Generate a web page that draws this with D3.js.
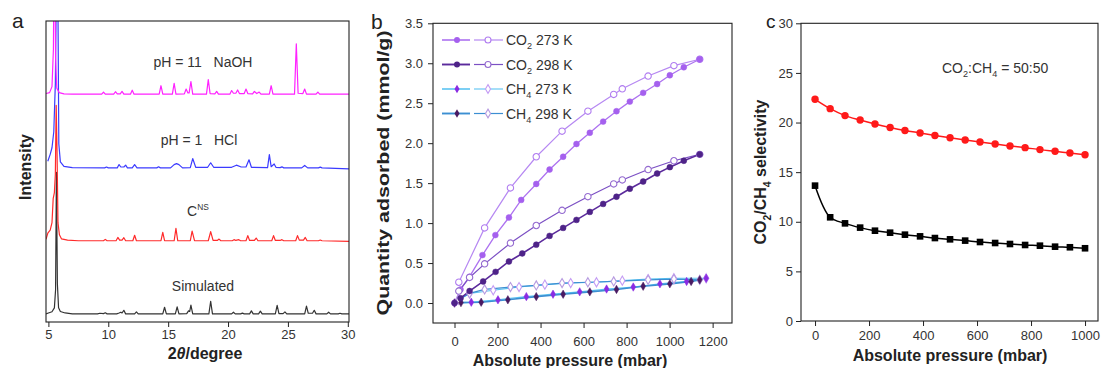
<!DOCTYPE html>
<html><head><meta charset="utf-8">
<script src="https://cdn.jsdelivr.net/npm/d3@7"></script>
<style>
body{margin:0;background:#fff}
svg{display:block}
text{font-family:"Liberation Sans",Arial,Helvetica,sans-serif}
</style>
</head><body>
<svg id="chart" width="1102" height="368"></svg>
<script>
// ---------------- Panel a: XRD patterns [2theta, intensity a.u.] ----------------
const xrdSimulated = [[4.8,0],[5.0,0.3],[5.3,0.7],[5.5,2],[5.6,8],[5.67,47],[5.75,10],[5.85,2],[6.0,0.8],[6.4,0.3],[7.0,0],
[9.1,0],[9.3,0.2],[9.6,0.1],[9.75,0.35],[9.9,0],[10.7,0],[10.9,0.3],[11.05,0.55],[11.15,0.3],[11.3,1.2],[11.45,0],
[12.2,0],[12.35,0.65],[12.5,0],[14.55,0],[14.7,2.2],[14.85,0],[15.6,0],[15.75,2.3],[15.9,0],
[16.55,0.1],[16.7,1.0],[16.8,0.8],[16.9,2.9],[17.05,0],[18.4,0],[18.55,4.2],[18.7,0],
[20.3,0],[20.45,0.55],[20.6,0],[21.05,0],[21.2,0.25],[21.35,0],[21.8,0],[21.95,1.0],[22.1,0],[22.55,0],[22.7,0.9],[22.85,0],
[23.95,0],[24.1,2.8],[24.25,0.1],[24.6,0.1],[24.75,0.65],[24.9,0],[26.4,0],[26.55,2.6],[26.7,0.2],[27.05,0.2],[27.2,1.2],[27.35,0],
[28.25,0],[28.4,0.55],[28.55,0],[29.2,0],[29.35,0.2],[29.5,0],[30.1,0]];
const xrdCNS = [[4.8,0.5],[4.95,2.5],[5.15,3.5],[5.3,6],[5.4,14],[5.5,16],[5.58,22],[5.65,45],[5.72,30],[5.8,6],[5.92,2],[6.1,0.6],[6.6,0.2],[7.5,0],
[9.6,0],[9.75,0.45],[9.9,0],[10.65,0],[10.8,1.1],[10.95,0.2],[11.15,0.2],[11.3,1.0],[11.45,0],
[12.05,0],[12.2,1.8],[12.35,0],[14.4,0],[14.55,2.8],[14.7,0],[15.5,0],[15.65,4.1],[15.8,0],
[16.85,0],[17.0,3.2],[17.2,0],[18.35,0],[18.55,3.0],[18.75,0.1],[19.1,0.1],[19.25,0.55],[19.4,0],
[20.35,0],[20.5,0.35],[20.65,0.1],[20.9,0.35],[21.05,0],[21.5,0],[21.65,1.7],[21.8,0.1],[22.2,0.1],[22.35,0.9],[22.5,0],
[23.65,0],[23.8,1.7],[23.95,0.1],[24.35,0.1],[24.5,0.35],[24.65,0],[25.65,0],[25.8,1.7],[25.95,0.2],[26.3,0.2],[26.45,1.1],[26.6,0],
[27.55,0],[27.7,0.25],[27.85,0],[30.1,-0.2]];
const xrdHCl = [[4.95,2.2],[5.15,4.5],[5.3,6.7],[5.45,12],[5.58,28],[5.68,65],[5.78,65],[5.87,8],[6.0,2],[6.3,0.5],[7.0,0.1],
[9.7,0],[9.85,0.3],[10.0,0],[10.75,0],[10.9,1.1],[11.05,0.3],[11.3,0.3],[11.45,0.9],[11.6,0],
[12.0,0],[12.2,1.1],[12.4,0],[14.05,0],[14.2,0.35],[14.35,0],[15.2,0],[15.5,1.1],[15.7,1.4],[15.9,1.1],[16.2,0],
[16.85,0.1],[17.05,3.1],[17.3,0.2],[18.3,0.2],[18.55,1.7],[18.8,0.2],
[20.3,0.2],[20.7,0.9],[21.1,0.3],[21.5,0.3],[21.75,2.7],[21.95,0.2],
[23.3,0.1],[23.45,4.4],[23.6,0.4],[23.85,1.3],[24.0,0.2],[24.35,0.1],[24.5,0.35],[24.65,0],
[26.15,0],[26.4,0.8],[26.65,0],[27.55,0],[27.7,0.25],[27.85,0],[30.1,-0.3]];
const xrdNaOH = [[4.8,0.2],[5.1,0.5],[5.3,2.5],[5.42,15],[5.5,65],[5.6,12],[5.7,2],[5.9,0.5],[6.3,0.1],[7,0],
[9.45,0],[9.6,0.7],[9.75,0],[10.45,0],[10.6,0.8],[10.75,0.1],[11.0,0.1],[11.15,0.9],[11.3,0],
[11.85,0],[12.0,1.3],[12.15,0],[14.25,0],[14.4,2.8],[14.55,0],[15.35,0],[15.5,3.6],[15.65,0],
[16.35,0.1],[16.5,1.7],[16.65,0.4],[16.75,0.4],[16.9,4.2],[17.05,0],
[18.2,0],[18.35,4.8],[18.5,0.2],[18.9,0.1],[19.05,0.9],[19.2,0],
[20.15,0],[20.3,1.2],[20.45,0.3],[20.65,0.3],[20.8,1.4],[20.95,0.2],[21.35,0.2],[21.5,1.7],[21.65,0.2],[22.05,0.1],[22.2,0.9],[22.4,0.2],[22.6,0.7],[22.75,0],
[23.45,0],[23.6,2.8],[23.75,0],[25.55,0],[25.7,16.7],[25.85,0.3],[26.25,0.2],[26.4,1.7],[26.55,0],
[27.35,0],[27.5,0.7],[27.65,0],[30.1,0]];
const xrdNames   = ["Simulated","CNS","HCl","NaOH"];
const xrdOffsets = [2.7, 27, 51.2, 75.7];
const xrdColors  = ["#333333","#ff2a2a","#3b3bff","#ff22ff"];
const xrdTicks   = [5,10,15,20,25,30];

// ---------------- Panel b: isotherms (pressure mbar, quantity mmol/g) ----------------
const co2_273_ads_p = [0,28,70,130,190,253,310,380,442,505,567,629,691,753,815,877,942,1001,1066,1140];
const co2_273_ads_q = [0,0.17,0.33,0.60,0.85,1.07,1.29,1.49,1.67,1.83,1.99,2.13,2.27,2.40,2.52,2.63,2.74,2.85,2.95,3.05];
const co2_273_des_p = [1140,1020,900,780,740,620,500,380,260,140,20];
const co2_273_des_q = [3.05,2.97,2.84,2.68,2.61,2.40,2.15,1.83,1.44,0.94,0.26];
const co2_298_ads_p = [0,28,70,133,191,253,315,380,442,505,567,629,691,753,815,877,942,1001,1066,1140];
const co2_298_ads_q = [0,0.06,0.15,0.27,0.39,0.52,0.62,0.73,0.84,0.94,1.04,1.14,1.24,1.33,1.43,1.52,1.62,1.70,1.78,1.86];
const co2_298_des_p = [1140,1020,900,780,740,620,500,380,260,140,70,20];
const co2_298_des_q = [1.86,1.78,1.67,1.54,1.49,1.33,1.16,0.97,0.75,0.49,0.32,0.15];
const ch4_273_ads_p = [0,78,202,334,458,582,707,831,955,1079,1170];
const ch4_273_ads_q = [0,0.01,0.04,0.08,0.11,0.14,0.175,0.20,0.24,0.27,0.31];
const ch4_273_des_p = [1170,1020,900,780,660,540,420,300,180,70,20];
const ch4_273_des_q = [0.31,0.31,0.30,0.28,0.26,0.25,0.23,0.20,0.16,0.12,0.05];
const ch4_298_ads_p = [0,30,124,248,380,505,629,753,877,1001,1100,1140];
const ch4_298_ads_q = [0,0.005,0.01,0.04,0.08,0.11,0.14,0.17,0.21,0.24,0.27,0.29];
const ch4_298_des_p = [1140,1020,900,740,620,500,380,260,140,70,20];
const ch4_298_des_q = [0.29,0.30,0.29,0.27,0.26,0.25,0.22,0.20,0.17,0.12,0.04];
const isoTicksX = [0,200,400,600,800,1000,1200];
const isoTicksY = [0,0.5,1.0,1.5,2.0,2.5,3.0,3.5];

// ---------------- Panel c: selectivity ----------------
const selP   = [0,56,111,167,222,278,333,389,444,500,556,611,667,722,778,833,889,944,1000];
const selRed = [22.34,21.4,20.7,20.25,19.85,19.5,19.2,18.95,18.7,18.47,18.24,18.04,17.84,17.64,17.47,17.27,17.1,16.93,16.76];
const selBlk = [13.64,10.45,9.84,9.41,9.1,8.9,8.7,8.53,8.36,8.23,8.1,7.96,7.86,7.76,7.66,7.59,7.49,7.43,7.33];
const selTicksX = [0,200,400,600,800,1000];
const selTicksY = [0,5,10,15,20,25,30];

// ================= drawing =================
const svg = d3.select("#chart");
const FONT = '"Liberation Sans",Arial,sans-serif';

function richText(g, x, y, parts, size, opts={}) {
  const t = g.append("text").attr("x", x).attr("y", y)
    .attr("font-size", size).attr("fill", opts.fill||"#222")
    .attr("font-weight", opts.bold?"bold":"normal")
    .attr("text-anchor", opts.anchor||"start")
    .style("white-space","pre");
  if (opts.rotate) t.attr("transform", `rotate(-90,${x},${y})`);
  if (opts.len) t.attr("textLength", opts.len).attr("lengthAdjust","spacingAndGlyphs");
  let shift = 0;
  parts.forEach(p => {
    const s = t.append("tspan").text(p.t);
    let target = 0;
    if (p.sub) { s.attr("font-size", size*0.65); target = size*0.3; }
    if (p.sup) { s.attr("font-size", size*0.6); target = -size*0.45; }
    if (p.it) s.attr("font-style","italic");
    if (target !== shift) { s.attr("dy", target - shift); shift = target; }
  });
  return t;
}

function frame(x, y) {
  const [x0,x1] = x.range(), [y0,y1] = y.range();
  svg.append("rect").attr("x",x0).attr("y",y1).attr("width",x1-x0).attr("height",y0-y1)
    .attr("fill","none").attr("stroke","#222").attr("stroke-width",1.1);
}
function xAxis(x, y, major, minor, pad, fmt) {
  const y0 = y.range()[0];
  const g = svg.append("g").attr("transform",`translate(0,${y0})`);
  g.call(d3.axisBottom(x).tickValues(minor).tickSize(3).tickFormat(""));
  g.call(d3.axisBottom(x).tickValues(major).tickSize(5).tickPadding(pad).tickFormat(fmt||d3.format("d")));
  g.selectAll(".domain").remove();
  g.selectAll("line").attr("stroke","#222");
  g.selectAll("text").attr("font-size",13).attr("fill","#333").attr("font-family",FONT);
}
function yAxis(x, y, major, minor, pad, fmt) {
  const x0 = x.range()[0];
  const g = svg.append("g").attr("transform",`translate(${x0},0)`);
  g.call(d3.axisLeft(y).tickValues(minor).tickSize(3).tickFormat(""));
  g.call(d3.axisLeft(y).tickValues(major).tickSize(5).tickPadding(pad).tickFormat(fmt));
  g.selectAll(".domain").remove();
  g.selectAll("line").attr("stroke","#222");
  g.selectAll("text").attr("font-size",13).attr("fill","#333").attr("font-family",FONT);
}

// ----- Panel a -----
const xA = d3.scaleLinear().domain([4.8,30.1]).range([46,349]);
const yA = d3.scaleLinear().domain([0,100]).range([322,21]);
svg.append("clipPath").attr("id","clipA").append("rect")
  .attr("x",46).attr("y",21).attr("width",303).attr("height",301);
const gA = svg.append("g").attr("clip-path","url(#clipA)");
[xrdSimulated, xrdCNS, xrdHCl, xrdNaOH].forEach((d,i) => {
  const line = d3.line().x(p => xA(p[0])).y(p => yA(p[1] + xrdOffsets[i]));
  gA.append("path").attr("d", line(d)).attr("fill","none")
    .attr("stroke", xrdColors[i]).attr("stroke-width",1.2).attr("stroke-linejoin","round");
});
frame(xA, yA);
xAxis(xA, yA, xrdTicks, d3.range(7.5,30,5), 3);
richText(svg, 203, 67, [{t:"pH = 11   NaOH"}], 14, {anchor:"middle", fill:"#333"});
richText(svg, 199, 145, [{t:"pH = 1   HCl"}], 14, {anchor:"middle", fill:"#333"});
richText(svg, 187, 216, [{t:"C"},{t:"NS",sup:true}], 14, {fill:"#333"});
richText(svg, 203, 291, [{t:"Simulated"}], 14, {anchor:"middle", fill:"#333"});
richText(svg, 205, 359, [{t:"2"},{t:"θ",it:true},{t:"/degree"}], 16, {anchor:"middle", bold:true});
richText(svg, 31, 167, [{t:"Intensity"}], 16, {anchor:"middle", bold:true, rotate:true});
richText(svg, 12, 28, [{t:"a"}], 21, {});

// ----- Panel b -----
const xB = d3.scaleLinear().domain([-100,1290]).range([433,732]);
const yB = d3.scaleLinear().domain([-0.25,3.5]).range([323,23.3]);
const zip = (p,q) => p.map((v,i) => [v,q[i]]);
const series = [
  {ads:zip(ch4_273_ads_p,ch4_273_ads_q), des:zip(ch4_273_des_p,ch4_273_des_q), lineA:"#5cc4f2", lineD:"#5cc4f2", fill:"#8a2be2", open:"#c49cf4", sym:d3.symbolDiamond, wA:1.3, wD:1.1},
  {ads:zip(ch4_298_ads_p,ch4_298_ads_q), des:zip(ch4_298_des_p,ch4_298_des_q), lineA:"#3c8fd2", lineD:"#3c8fd2", fill:"#4a1a62", open:"#b69ae0", sym:d3.symbolDiamond, wA:1.6, wD:1.2},
  {ads:zip(co2_273_ads_p,co2_273_ads_q), des:zip(co2_273_des_p,co2_273_des_q), lineA:"#ad72f0", lineD:"#b688f2", fill:"#a560ee", open:"#b07cf0", sym:d3.symbolCircle, wA:1.3, wD:1.2},
  {ads:zip(co2_298_ads_p,co2_298_ads_q), des:zip(co2_298_des_p,co2_298_des_q), lineA:"#5b2a9c", lineD:"#7c50c4", fill:"#4e2388", open:"#946ad0", sym:d3.symbolCircle, wA:1.6, wD:1.2}
];
const lineB = d3.line().x(d => xB(d[0])).y(d => yB(d[1]));
series.forEach(s => {
  svg.append("path").attr("d", lineB(s.des)).attr("fill","none").attr("stroke",s.lineD).attr("stroke-width",s.wD);
  svg.append("path").attr("d", lineB(s.ads)).attr("fill","none").attr("stroke",s.lineA).attr("stroke-width",s.wA);
});
series.forEach(s => {
  const sz = s.sym === d3.symbolCircle ? 32 : 24;
  svg.append("g").selectAll("path").data(s.des).join("path")
    .attr("transform", d => `translate(${xB(d[0])},${yB(d[1])})`)
    .attr("d", d3.symbol(s.sym, sz)).attr("fill","#fff").attr("stroke",s.open).attr("stroke-width",1.1);
  svg.append("g").selectAll("path").data(s.ads).join("path")
    .attr("transform", d => `translate(${xB(d[0])},${yB(d[1])})`)
    .attr("d", d3.symbol(s.sym, sz*0.85)).attr("fill",s.fill).attr("stroke",s.fill).attr("stroke-width",0.5);
});
frame(xB, yB);
xAxis(xB, yB, isoTicksX, d3.range(-100,1300,200), 9);
yAxis(xB, yB, isoTicksY, d3.range(-0.25,3.5,0.5), 5, d3.format(".1f"));
// legend
const legend = [
  {parts:[{t:"CO"},{t:"2",sub:true},{t:" 273 K"}], s:series[2]},
  {parts:[{t:"CO"},{t:"2",sub:true},{t:" 298 K"}], s:series[3]},
  {parts:[{t:"CH"},{t:"4",sub:true},{t:" 273 K"}], s:series[0]},
  {parts:[{t:"CH"},{t:"4",sub:true},{t:" 298 K"}], s:series[1]}
];
legend.forEach((L,i) => {
  const y = 40 + i*24.5, s = L.s;
  svg.append("line").attr("x1",442).attr("x2",470).attr("y1",y).attr("y2",y).attr("stroke",s.lineA).attr("stroke-width",s.wA+0.3);
  svg.append("line").attr("x1",474).attr("x2",503).attr("y1",y).attr("y2",y).attr("stroke",s.lineD).attr("stroke-width",s.wD);
  const sz = s.sym === d3.symbolCircle ? 28 : 22;
  svg.append("path").attr("transform",`translate(457,${y})`).attr("d",d3.symbol(s.sym,sz)).attr("fill",s.fill);
  svg.append("path").attr("transform",`translate(488,${y})`).attr("d",d3.symbol(s.sym,sz)).attr("fill","#fff").attr("stroke",s.open).attr("stroke-width",1.1);
  richText(svg, 506, y+5, L.parts, 14, {fill:"#333"});
});
richText(svg, 570, 366, [{t:"Absolute pressure (mbar)"}], 16, {anchor:"middle", bold:true});
richText(svg, 389, 173, [{t:"Quantity adsorbed (mmol/g)"}], 16, {anchor:"middle", bold:true, rotate:true, len:285});
richText(svg, 371, 29, [{t:"b"}], 21, {});

// ----- Panel c -----
const xC = d3.scaleLinear().domain([-52,1048]).range([801,1098]);
const yC = d3.scaleLinear().domain([0,30]).range([321,23.3]);
const lineC = d3.line().x(d => xC(d[0])).y(d => yC(d[1])).curve(d3.curveCatmullRom);
const redPts = zip(selP, selRed), blkPts = zip(selP, selBlk);
svg.append("path").attr("d", lineC(redPts)).attr("fill","none").attr("stroke","#ff1a1a").attr("stroke-width",1.5);
svg.append("path").attr("d", lineC(blkPts)).attr("fill","none").attr("stroke","#000").attr("stroke-width",1.5);
svg.append("g").selectAll("circle").data(redPts).join("circle")
  .attr("cx", d => xC(d[0])).attr("cy", d => yC(d[1])).attr("r",3.7).attr("fill","#ff1a1a");
svg.append("g").selectAll("rect").data(blkPts).join("rect")
  .attr("x", d => xC(d[0])-3.3).attr("y", d => yC(d[1])-3.3).attr("width",6.6).attr("height",6.6).attr("fill","#000");
frame(xC, yC);
xAxis(xC, yC, selTicksX, d3.range(100,1100,200), 5);
yAxis(xC, yC, selTicksY, d3.range(2.5,30,5), 3, d3.format("d"));
richText(svg, 942, 73, [{t:"CO"},{t:"2",sub:true},{t:":CH"},{t:"4",sub:true},{t:" = 50:50"}], 14, {fill:"#333"});
richText(svg, 950, 361, [{t:"Absolute pressure (mbar)"}], 16, {anchor:"middle", bold:true});
richText(svg, 766, 172, [{t:"CO"},{t:"2",sub:true},{t:"/CH"},{t:"4",sub:true},{t:" selectivity"}], 16, {anchor:"middle", bold:true, rotate:true});
richText(svg, 766, 28, [{t:"c"}], 19, {});
</script>
</body></html>
